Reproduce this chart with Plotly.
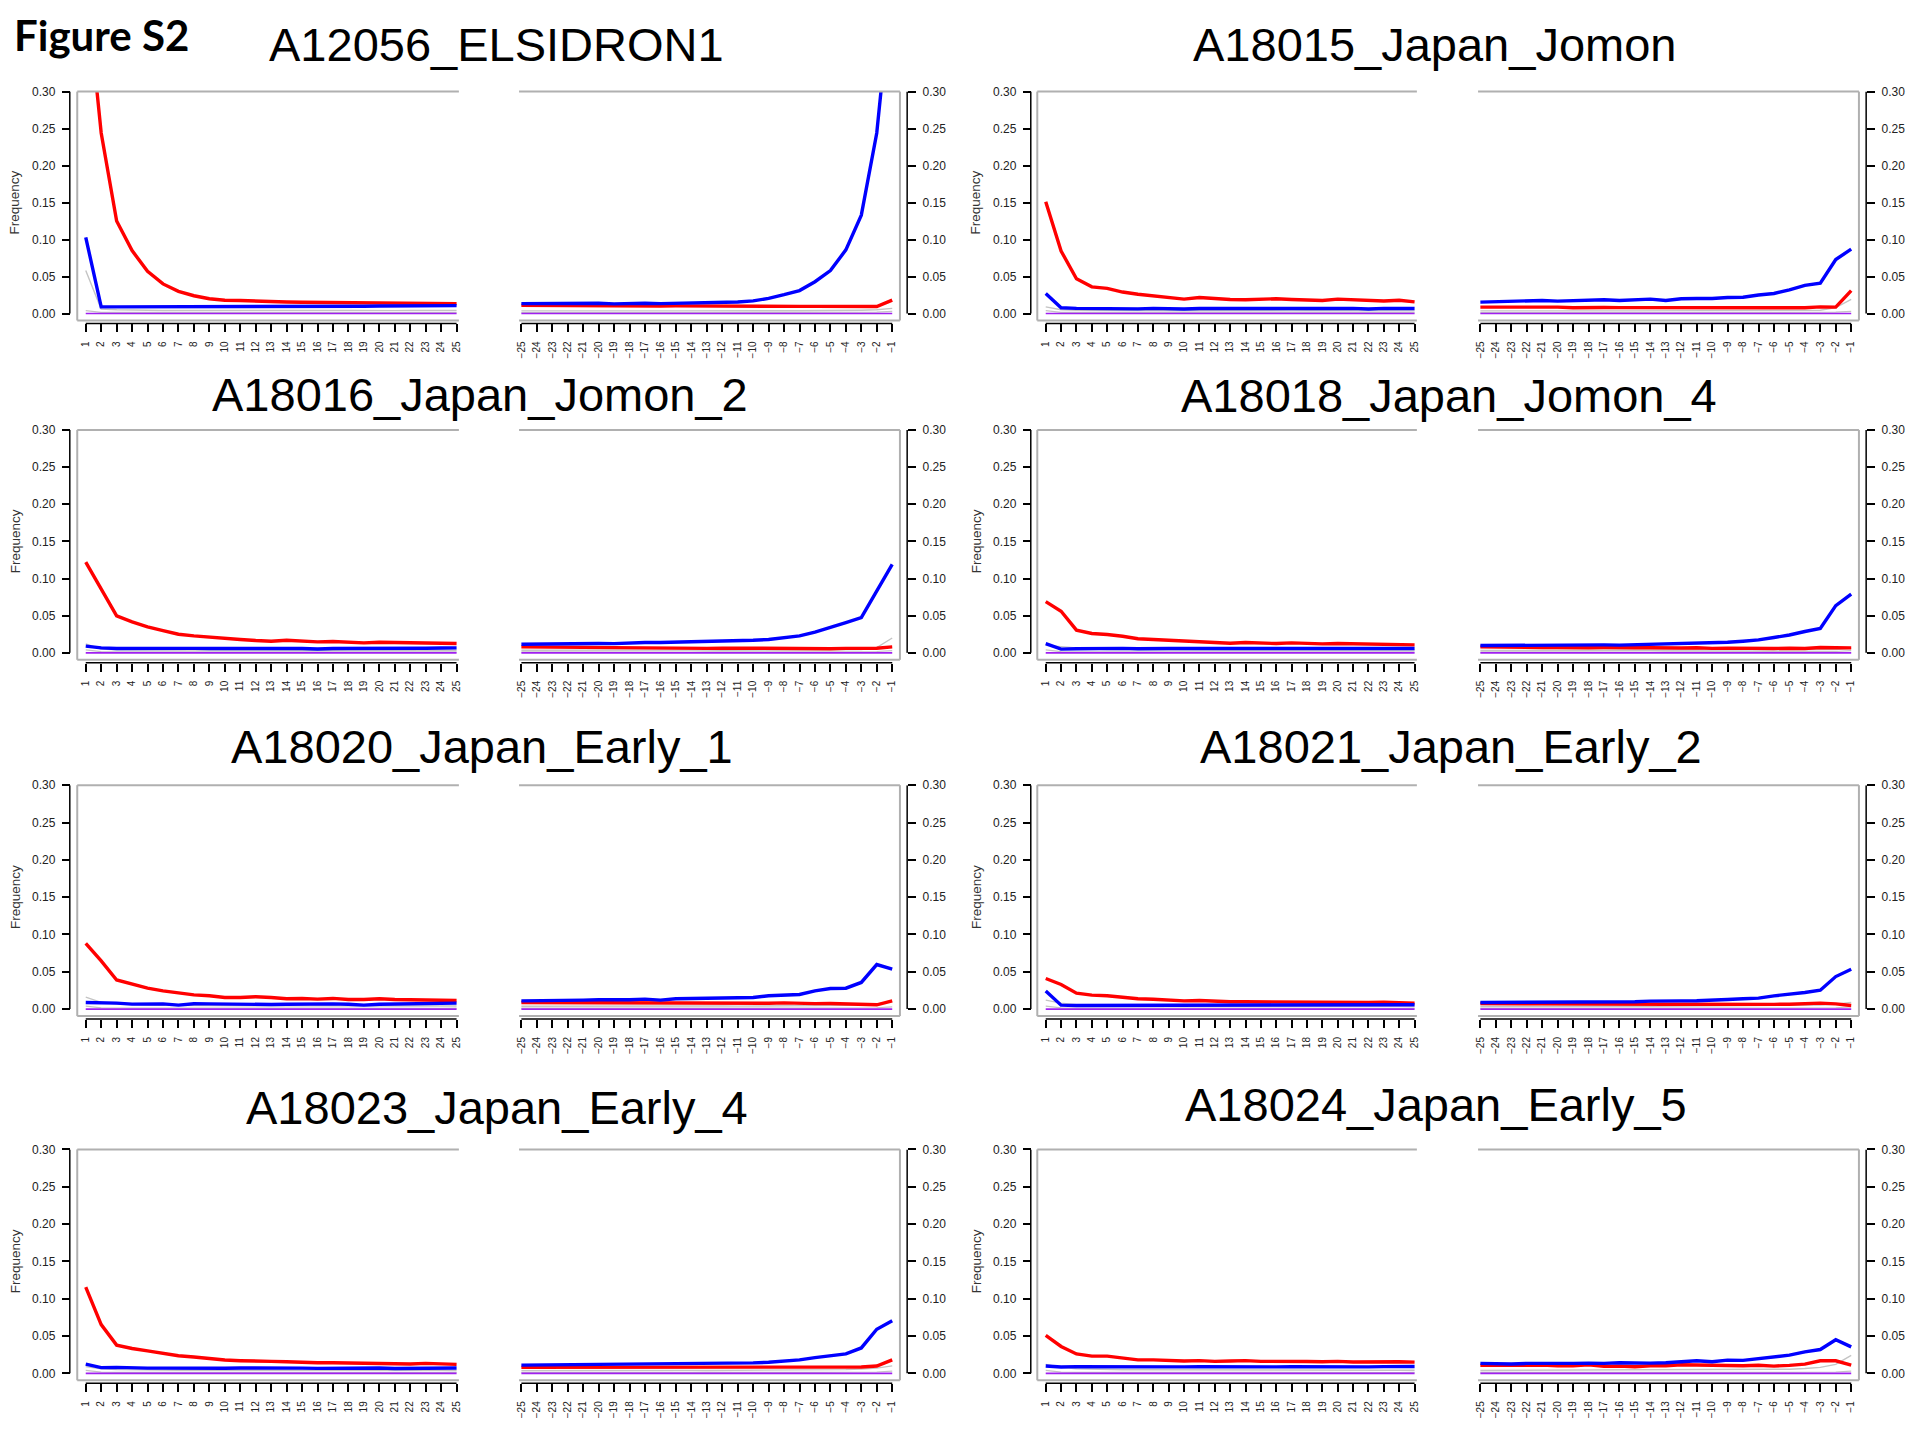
import plotly.graph_objects as go

W, H = 1920, 1440

# ---------------- data ----------------
pos5 = list(range(1, 26))
pos3 = list(range(-25, 0))
labels5 = [str(p) for p in pos5]
labels3 = ["\u2212" + str(-p) for p in pos3]
ytick_vals = [0.0, 0.05, 0.10, 0.15, 0.20, 0.25, 0.30]
ytick_text = ["0.00", "0.05", "0.10", "0.15", "0.20", "0.25", "0.30"]

sample_names = ["A12056_ELSIDRON1", "A18015_Japan_Jomon", "A18016_Japan_Jomon_2", "A18018_Japan_Jomon_4",
                "A18020_Japan_Early_1", "A18021_Japan_Early_2", "A18023_Japan_Early_4", "A18024_Japan_Early_5"]

# 5' end: C->T (red), G->A (blue); 3' end: C->T (red), G->A (blue); positions -25..-1 for 3'
s1_ct5 = [0.45, 0.244, 0.125, 0.085, 0.057, 0.040, 0.030, 0.024, 0.020, 0.018, 0.0175, 0.0166, 0.0157, 0.0155, 0.0152, 0.0150, 0.0152, 0.0150, 0.0146, 0.0145, 0.0142, 0.0140, 0.0138, 0.0140, 0.0134]
s1_ga5 = [0.103, 0.009, 0.009, 0.009, 0.009, 0.0091, 0.0092, 0.0095, 0.0098, 0.0097, 0.0099, 0.0100, 0.0096, 0.0099, 0.0100, 0.0098, 0.0101, 0.0100, 0.0098, 0.0102, 0.0101, 0.0100, 0.0103, 0.0105, 0.0106]
s1_ct3 = [0.0110, 0.0108, 0.0105, 0.0102, 0.0104, 0.0103, 0.0098, 0.0101, 0.0102, 0.0100, 0.0103, 0.0101, 0.0098, 0.0101, 0.0100, 0.0096, 0.0099, 0.0100, 0.0096, 0.0097, 0.0095, 0.0094, 0.0092, 0.0094, 0.0180]
s1_ga3 = [0.0134, 0.0136, 0.0135, 0.0130, 0.0135, 0.0138, 0.0130, 0.0138, 0.0138, 0.0133, 0.0137, 0.0140, 0.0142, 0.0150, 0.0155, 0.0170, 0.0205, 0.0255, 0.0310, 0.0430, 0.0580, 0.0860, 0.1330, 0.2440, 0.4500]
s1_oth5 = [0.058, 0.006, 0.005, 0.0045, 0.0042, 0.0040, 0.0041, 0.0039, 0.0040, 0.0038, 0.0040, 0.0041, 0.0039, 0.0040, 0.0038, 0.0039, 0.0040, 0.0041, 0.0038, 0.0040, 0.0039, 0.0041, 0.0040, 0.0039, 0.0040]
s1_oth3 = [0.0035, 0.0034, 0.0035, 0.0036, 0.0034, 0.0035, 0.0036, 0.0035, 0.0034, 0.0035, 0.0036, 0.0035, 0.0036, 0.0035, 0.0036, 0.0037, 0.0036, 0.0037, 0.0038, 0.0038, 0.0040, 0.0042, 0.0045, 0.0050, 0.0070]

s2_ct5 = [0.151, 0.0845, 0.047, 0.036, 0.034, 0.029, 0.026, 0.024, 0.022, 0.0194, 0.0217, 0.020, 0.019, 0.0185, 0.019, 0.020, 0.019, 0.0185, 0.0176, 0.0194, 0.0185, 0.0176, 0.017, 0.018, 0.0158]
s2_ga5 = [0.027, 0.0077, 0.0070, 0.0066, 0.0070, 0.0069, 0.0062, 0.0070, 0.0066, 0.0060, 0.0068, 0.0066, 0.0064, 0.0069, 0.0067, 0.0061, 0.0068, 0.0068, 0.0063, 0.0067, 0.0070, 0.0060, 0.0070, 0.0072, 0.0068]
s2_ct3 = [0.0086, 0.0086, 0.0087, 0.0090, 0.0085, 0.0086, 0.0078, 0.0083, 0.0082, 0.0080, 0.0079, 0.0077, 0.0078, 0.0081, 0.0083, 0.0080, 0.0079, 0.0080, 0.0076, 0.0078, 0.0080, 0.0077, 0.0090, 0.0086, 0.0310]
s2_ga3 = [0.0154, 0.0158, 0.0170, 0.0167, 0.0176, 0.0167, 0.0176, 0.0176, 0.0185, 0.0176, 0.0185, 0.0194, 0.0176, 0.0200, 0.0203, 0.0203, 0.0217, 0.0220, 0.0250, 0.0270, 0.0320, 0.0380, 0.0410, 0.0730, 0.0870]
s2_oth5 = [0.009, 0.005, 0.0042, 0.0040, 0.0038, 0.0039, 0.0037, 0.0038, 0.0036, 0.0037, 0.0038, 0.0036, 0.0037, 0.0038, 0.0036, 0.0037, 0.0036, 0.0038, 0.0037, 0.0036, 0.0037, 0.0038, 0.0036, 0.0037, 0.0036]
s2_oth3 = [0.0035, 0.0036, 0.0035, 0.0036, 0.0035, 0.0034, 0.0035, 0.0036, 0.0035, 0.0036, 0.0035, 0.0036, 0.0037, 0.0036, 0.0037, 0.0036, 0.0037, 0.0038, 0.0038, 0.0039, 0.0040, 0.0042, 0.0045, 0.0080, 0.0190]

s3_ct5 = [0.122, 0.086, 0.0497, 0.0416, 0.035, 0.030, 0.025, 0.0228, 0.021, 0.0188, 0.018, 0.0166, 0.0157, 0.017, 0.0157, 0.0148, 0.0152, 0.0148, 0.0134, 0.0143, 0.0139, 0.0134, 0.0139, 0.0134, 0.0125]
s3_ga5 = [0.009, 0.0067, 0.0058, 0.0060, 0.0060, 0.0058, 0.0056, 0.0060, 0.0058, 0.0056, 0.0058, 0.0058, 0.0054, 0.0058, 0.0058, 0.0052, 0.0058, 0.0058, 0.0052, 0.0058, 0.0062, 0.0058, 0.0062, 0.0066, 0.0067]
s3_ct3 = [0.0080, 0.0078, 0.0074, 0.0072, 0.0070, 0.0068, 0.0066, 0.0066, 0.0068, 0.0062, 0.0066, 0.0066, 0.0060, 0.0064, 0.0062, 0.0060, 0.0062, 0.0060, 0.0058, 0.0050, 0.0056, 0.0060, 0.0062, 0.0062, 0.0080]
s3_ga3 = [0.0116, 0.0120, 0.0122, 0.0125, 0.0126, 0.0125, 0.0124, 0.0134, 0.0139, 0.0139, 0.0143, 0.0148, 0.0148, 0.0157, 0.0166, 0.0170, 0.0180, 0.0200, 0.0228, 0.0280, 0.0340, 0.0407, 0.0475, 0.0830, 0.1190]
s3_oth5 = [0.012, 0.0050, 0.0042, 0.0040, 0.0039, 0.0038, 0.0037, 0.0038, 0.0036, 0.0037, 0.0038, 0.0036, 0.0037, 0.0036, 0.0037, 0.0036, 0.0035, 0.0037, 0.0036, 0.0035, 0.0036, 0.0037, 0.0035, 0.0036, 0.0035]
s3_oth3 = [0.0034, 0.0035, 0.0034, 0.0035, 0.0036, 0.0035, 0.0034, 0.0035, 0.0036, 0.0035, 0.0036, 0.0035, 0.0036, 0.0035, 0.0036, 0.0037, 0.0036, 0.0037, 0.0038, 0.0039, 0.0040, 0.0042, 0.0045, 0.0070, 0.0200]

s4_ct5 = [0.069, 0.056, 0.0305, 0.026, 0.0246, 0.0224, 0.019, 0.018, 0.0166, 0.0152, 0.0152, 0.0143, 0.013, 0.0139, 0.013, 0.0125, 0.0134, 0.0125, 0.012, 0.0125, 0.012, 0.0116, 0.012, 0.0116, 0.0107]
s4_ga5 = [0.0125, 0.0050, 0.0055, 0.0058, 0.0060, 0.0060, 0.0055, 0.0060, 0.0058, 0.0058, 0.0058, 0.0058, 0.0055, 0.0058, 0.0055, 0.0052, 0.0062, 0.0058, 0.0055, 0.0058, 0.0058, 0.0055, 0.0058, 0.0060, 0.0058]
s4_ct3 = [0.0080, 0.0076, 0.0076, 0.0072, 0.0072, 0.0072, 0.0066, 0.0068, 0.0070, 0.0064, 0.0068, 0.0068, 0.0064, 0.0066, 0.0068, 0.0060, 0.0064, 0.0062, 0.0054, 0.0058, 0.0062, 0.0058, 0.0072, 0.0072, 0.0067]
s4_ga3 = [0.0098, 0.0100, 0.0100, 0.0098, 0.0102, 0.0104, 0.0100, 0.0102, 0.0107, 0.0104, 0.0110, 0.0116, 0.0112, 0.0120, 0.0130, 0.0130, 0.0143, 0.0157, 0.0175, 0.0206, 0.0240, 0.0287, 0.0327, 0.0636, 0.0790]
s4_oth5 = [0.010, 0.0085, 0.0060, 0.0050, 0.0045, 0.0043, 0.0042, 0.0040, 0.0041, 0.0040, 0.0039, 0.0040, 0.0038, 0.0039, 0.0040, 0.0038, 0.0039, 0.0038, 0.0037, 0.0039, 0.0038, 0.0037, 0.0038, 0.0039, 0.0037]
s4_oth3 = [0.0033, 0.0034, 0.0033, 0.0034, 0.0035, 0.0034, 0.0033, 0.0034, 0.0035, 0.0034, 0.0035, 0.0034, 0.0035, 0.0034, 0.0035, 0.0036, 0.0035, 0.0036, 0.0036, 0.0037, 0.0038, 0.0039, 0.0041, 0.0045, 0.0060]

s5_ct5 = [0.088, 0.0646, 0.039, 0.0334, 0.028, 0.0245, 0.0214, 0.019, 0.0178, 0.0156, 0.0156, 0.0165, 0.0156, 0.0138, 0.0143, 0.0134, 0.0143, 0.0129, 0.0129, 0.0138, 0.0129, 0.0125, 0.0129, 0.0125, 0.0116]
s5_ga5 = [0.0089, 0.0089, 0.0080, 0.0067, 0.0072, 0.0070, 0.0054, 0.0072, 0.0070, 0.0066, 0.0072, 0.0066, 0.0062, 0.0066, 0.0070, 0.0066, 0.0070, 0.0066, 0.0054, 0.0066, 0.0068, 0.0066, 0.0072, 0.0080, 0.0080]
s5_ct3 = [0.0089, 0.0088, 0.0090, 0.0082, 0.0080, 0.0084, 0.0080, 0.0080, 0.0082, 0.0078, 0.0078, 0.0076, 0.0076, 0.0080, 0.0078, 0.0078, 0.0078, 0.0084, 0.0076, 0.0074, 0.0076, 0.0070, 0.0062, 0.0058, 0.0110]
s5_ga3 = [0.0110, 0.0110, 0.0120, 0.0110, 0.0120, 0.0125, 0.0120, 0.0125, 0.0134, 0.0120, 0.0138, 0.0143, 0.0138, 0.0147, 0.0152, 0.0156, 0.0178, 0.0190, 0.0196, 0.0245, 0.0276, 0.0280, 0.0357, 0.0597, 0.0535]
s5_oth5 = [0.016, 0.0090, 0.0068, 0.0058, 0.0054, 0.0050, 0.0048, 0.0047, 0.0046, 0.0045, 0.0046, 0.0045, 0.0044, 0.0045, 0.0044, 0.0043, 0.0044, 0.0043, 0.0042, 0.0044, 0.0043, 0.0042, 0.0043, 0.0042, 0.0041]
s5_oth3 = [0.0038, 0.0039, 0.0038, 0.0039, 0.0040, 0.0039, 0.0038, 0.0039, 0.0040, 0.0039, 0.0040, 0.0039, 0.0040, 0.0041, 0.0040, 0.0041, 0.0042, 0.0043, 0.0044, 0.0045, 0.0047, 0.0050, 0.0060, 0.0070, 0.0100]

s6_ct5 = [0.041, 0.033, 0.0213, 0.0187, 0.0178, 0.0156, 0.0138, 0.0133, 0.0124, 0.011, 0.0116, 0.0102, 0.0098, 0.0098, 0.0096, 0.0093, 0.0096, 0.0096, 0.0093, 0.0096, 0.0093, 0.0089, 0.0091, 0.0089, 0.0080]
s6_ga5 = [0.0244, 0.0053, 0.0049, 0.0049, 0.0058, 0.0055, 0.0055, 0.0058, 0.0055, 0.0053, 0.0055, 0.0055, 0.0050, 0.0053, 0.0055, 0.0050, 0.0055, 0.0053, 0.0050, 0.0058, 0.0055, 0.0053, 0.0055, 0.0058, 0.0058]
s6_ct3 = [0.0076, 0.0072, 0.0070, 0.0070, 0.0072, 0.0070, 0.0068, 0.0070, 0.0068, 0.0066, 0.0068, 0.0068, 0.0066, 0.0066, 0.0064, 0.0062, 0.0062, 0.0060, 0.0062, 0.0064, 0.0066, 0.0070, 0.0080, 0.0070, 0.0049]
s6_ga3 = [0.0089, 0.0089, 0.0089, 0.0090, 0.0092, 0.0093, 0.0093, 0.0094, 0.0096, 0.0096, 0.0098, 0.0107, 0.0104, 0.0110, 0.0112, 0.0116, 0.0129, 0.0138, 0.0147, 0.0178, 0.0196, 0.0222, 0.0253, 0.0436, 0.0533]
s6_oth5 = [0.012, 0.0080, 0.0060, 0.0052, 0.0048, 0.0046, 0.0045, 0.0044, 0.0043, 0.0044, 0.0042, 0.0043, 0.0042, 0.0041, 0.0042, 0.0041, 0.0042, 0.0040, 0.0041, 0.0042, 0.0040, 0.0041, 0.0040, 0.0041, 0.0040]
s6_oth3 = [0.0036, 0.0037, 0.0036, 0.0037, 0.0038, 0.0037, 0.0036, 0.0037, 0.0038, 0.0037, 0.0038, 0.0037, 0.0038, 0.0039, 0.0038, 0.0039, 0.0040, 0.0041, 0.0042, 0.0043, 0.0045, 0.0048, 0.0055, 0.0065, 0.0090]

s7_ct5 = [0.1155, 0.0653, 0.0378, 0.0333, 0.030, 0.0267, 0.0236, 0.0218, 0.0196, 0.0178, 0.0169, 0.0169, 0.016, 0.0156, 0.0147, 0.0142, 0.0142, 0.0138, 0.0133, 0.0133, 0.0129, 0.0124, 0.0133, 0.0129, 0.012]
s7_ga5 = [0.0124, 0.0076, 0.0080, 0.0072, 0.0070, 0.0070, 0.0068, 0.0074, 0.0072, 0.0068, 0.0072, 0.0074, 0.0066, 0.0068, 0.0070, 0.0066, 0.0068, 0.0068, 0.0068, 0.0072, 0.0064, 0.0066, 0.0072, 0.0072, 0.0072]
s7_ct3 = [0.0080, 0.0080, 0.0078, 0.0080, 0.0078, 0.0076, 0.0078, 0.0076, 0.0080, 0.0078, 0.0076, 0.0078, 0.0076, 0.0080, 0.0078, 0.0076, 0.0078, 0.0076, 0.0074, 0.0076, 0.0078, 0.0080, 0.0085, 0.0098, 0.0180]
s7_ga3 = [0.0110, 0.0112, 0.0112, 0.0114, 0.0115, 0.0117, 0.0118, 0.0120, 0.0122, 0.0125, 0.0126, 0.0128, 0.0128, 0.0132, 0.0135, 0.0140, 0.0148, 0.0160, 0.0180, 0.0210, 0.0230, 0.0260, 0.0340, 0.0590, 0.0705]
s7_oth5 = [0.009, 0.0060, 0.0050, 0.0046, 0.0044, 0.0043, 0.0042, 0.0041, 0.0042, 0.0040, 0.0041, 0.0040, 0.0041, 0.0039, 0.0040, 0.0041, 0.0039, 0.0040, 0.0039, 0.0040, 0.0039, 0.0038, 0.0040, 0.0039, 0.0038]
s7_oth3 = [0.0036, 0.0037, 0.0036, 0.0037, 0.0036, 0.0037, 0.0038, 0.0037, 0.0038, 0.0037, 0.0038, 0.0039, 0.0038, 0.0039, 0.0040, 0.0039, 0.0040, 0.0041, 0.0042, 0.0044, 0.0046, 0.0050, 0.0058, 0.0070, 0.0100]

s8_ct5 = [0.051, 0.036, 0.026, 0.023, 0.023, 0.021, 0.018, 0.018, 0.017, 0.0165, 0.017, 0.016, 0.0165, 0.017, 0.016, 0.0162, 0.016, 0.0158, 0.0155, 0.016, 0.0152, 0.0155, 0.015, 0.0155, 0.015]
s8_ga5 = [0.0098, 0.0085, 0.0090, 0.0088, 0.0092, 0.0088, 0.0085, 0.0090, 0.0088, 0.0086, 0.0090, 0.0088, 0.0085, 0.0090, 0.0088, 0.0086, 0.0090, 0.0087, 0.0085, 0.0090, 0.0088, 0.0086, 0.0090, 0.0090, 0.0092]
s8_ct3 = [0.0106, 0.0108, 0.0106, 0.0106, 0.0110, 0.0102, 0.0102, 0.0115, 0.0093, 0.0097, 0.0089, 0.0102, 0.0102, 0.0115, 0.0110, 0.0102, 0.0102, 0.0102, 0.0108, 0.0097, 0.0106, 0.0124, 0.0168, 0.0168, 0.0110]
s8_ga3 = [0.0133, 0.0128, 0.0124, 0.0133, 0.0133, 0.0124, 0.0133, 0.0137, 0.0133, 0.0142, 0.0137, 0.0137, 0.0142, 0.0150, 0.0168, 0.0155, 0.0177, 0.0173, 0.0200, 0.0226, 0.0244, 0.0288, 0.0319, 0.0450, 0.0354]
s8_oth5 = [0.012, 0.0080, 0.0062, 0.0055, 0.0050, 0.0048, 0.0047, 0.0046, 0.0045, 0.0046, 0.0044, 0.0045, 0.0044, 0.0043, 0.0044, 0.0043, 0.0044, 0.0042, 0.0043, 0.0042, 0.0043, 0.0042, 0.0041, 0.0042, 0.0041]
s8_oth3 = [0.0038, 0.0039, 0.0038, 0.0039, 0.0040, 0.0039, 0.0040, 0.0041, 0.0040, 0.0041, 0.0040, 0.0041, 0.0042, 0.0041, 0.0042, 0.0043, 0.0044, 0.0045, 0.0047, 0.0050, 0.0055, 0.0065, 0.0080, 0.0120, 0.0240]

# low-level "other substitution" lines and insertion line shared by all samples
low_oth5 = [0.0040, 0.0016, 0.0014, 0.0013, 0.0013, 0.0012, 0.0013, 0.0012, 0.0012, 0.0013, 0.0012, 0.0012, 0.0011, 0.0012, 0.0012, 0.0011, 0.0012, 0.0012, 0.0011, 0.0012, 0.0011, 0.0012, 0.0011, 0.0011, 0.0012]
low_oth3 = [0.0012, 0.0011, 0.0012, 0.0011, 0.0012, 0.0012, 0.0011, 0.0012, 0.0011, 0.0012, 0.0012, 0.0011, 0.0012, 0.0012, 0.0011, 0.0012, 0.0012, 0.0013, 0.0012, 0.0013, 0.0013, 0.0014, 0.0015, 0.0018, 0.0030]
ins_freq = [0.0, 0.0, 0.0, 0.0, 0.0, 0.0, 0.0, 0.0, 0.0, 0.0, 0.0, 0.0, 0.0, 0.0, 0.0, 0.0, 0.0, 0.0, 0.0, 0.0, 0.0, 0.0, 0.0, 0.0, 0.0]

samples = [
    (s1_ct5, s1_ga5, s1_oth5, s1_ct3, s1_ga3, s1_oth3),
    (s2_ct5, s2_ga5, s2_oth5, s2_ct3, s2_ga3, s2_oth3),
    (s3_ct5, s3_ga5, s3_oth5, s3_ct3, s3_ga3, s3_oth3),
    (s4_ct5, s4_ga5, s4_oth5, s4_ct3, s4_ga3, s4_oth3),
    (s5_ct5, s5_ga5, s5_oth5, s5_ct3, s5_ga3, s5_oth3),
    (s6_ct5, s6_ga5, s6_oth5, s6_ct3, s6_ga3, s6_oth3),
    (s7_ct5, s7_ga5, s7_oth5, s7_ct3, s7_ga3, s7_oth3),
    (s8_ct5, s8_ga5, s8_oth5, s8_ct3, s8_ga3, s8_oth3),
]

# ---------------- layout geometry (pixels) ----------------
cols = [dict(axl=67, t1=83, t25=455, m25=520, m1=892, axr=907),
        dict(axl=1031, t1=1046, t25=1416, m25=1482, m1=1854, axr=1869)]
rows = [(85, 308), (425, 649), (782, 1007), (1148, 1373)]   # pixel y of 0.30 and 0.00
title_xy = [(495, 38), (1436, 38), (478, 389), (1451, 390),
            (481, 743), (1453, 743), (496, 1106), (1437, 1103)]

RED, BLUE, GREY, PURPLE = "#ff0000", "#0000ff", "#c4c4c4", "#a020f0"
BOXC = "#b0b0b0"
TICKFONT_X = dict(family="Liberation Sans, Arial, sans-serif", size=10, color="#222222")
TICKFONT_Y = dict(family="Liberation Sans, Arial, sans-serif", size=12, color="#222222")

fig = go.Figure()
layout = {}
shapes = []
annotations = []


def axname(i):
    return "" if i == 1 else str(i)


for k, (ct5, ga5, oth5, ct3, ga3, oth3) in enumerate(samples):
    r, c = divmod(k, 2)
    g = cols[c]
    y30, y00 = rows[r]
    ppy = (y00 - y30) / 0.30
    ybot = y00 + 7
    ymin = -7 / ppy
    ydom = [1 - ybot / H, 1 - y30 / H]
    xaxis_pos = 1 - (y00 + 10) / H

    ppx = (g["t25"] - g["t1"]) / 24
    dom_l = [(g["t1"] - 0.55 * ppx) / W, (g["t25"] + 0.15 * ppx) / W]
    ppx2 = (g["m1"] - g["m25"]) / 24
    dom_r = [(g["m25"] - 0.15 * ppx2) / W, (g["m1"] + 0.5 * ppx2) / W]

    for side in (0, 1):
        idx = 2 * k + 1 + side
        n = axname(idx)
        if side == 0:
            xs, labs, dom, rng = pos5, labels5, dom_l, [0.45, 25.15]
            series = [(low_oth5, GREY, 1.2), (oth5, GREY, 1.4), (ins_freq, PURPLE, 1.6),
                      (ct5, RED, 3.4), (ga5, BLUE, 3.4)]
            yside, ypos = "left", g["axl"] / W
        else:
            xs, labs, dom, rng = pos3, labels3, dom_r, [-25.15, -0.5]
            series = [(low_oth3, GREY, 1.2), (oth3, GREY, 1.4), (ins_freq, PURPLE, 1.6),
                      (ct3, RED, 3.4), (ga3, BLUE, 3.4)]
            yside, ypos = "right", g["axr"] / W

        for vals, col, lw in series:
            fig.add_trace(go.Scatter(x=xs, y=vals, mode="lines",
                                     line=dict(color=col, width=lw),
                                     xaxis="x" + n, yaxis="y" + n,
                                     showlegend=False, hoverinfo="skip"))

        layout["xaxis" + n] = dict(
            domain=dom, range=rng, anchor="free", position=xaxis_pos,
            tickmode="array", tickvals=xs, ticktext=labs, tickangle=-90,
            ticks="outside", ticklen=8, tickwidth=1.5, tickcolor="black",
            ticklabelstandoff=5,
            showline=False, showgrid=False, zeroline=False, tickfont=TICKFONT_X)
        layout["yaxis" + n] = dict(
            domain=ydom, range=[ymin, 0.30], anchor="free", position=ypos, side=yside,
            tickmode="array", tickvals=ytick_vals, ticktext=ytick_text,
            ticks="outside", ticklen=8, tickwidth=1.5, tickcolor="black",
            ticklabelstandoff=4,
            showline=False, showgrid=False, zeroline=False, tickfont=TICKFONT_Y)

        # black axis lines (R-style, spanning the tick range only)
        shapes.append(dict(type="line", xref="paper", yref="y" + n, x0=ypos, x1=ypos,
                           y0=0, y1=0.30, line=dict(color="black", width=1.5)))
        shapes.append(dict(type="line", xref="x" + n, yref="paper", x0=xs[0], x1=xs[-1],
                           y0=xaxis_pos, y1=xaxis_pos, line=dict(color="black", width=1.5)))

        # grey frame (open toward the gap between the two halves)
        xd, yd = "x" + n + " domain", "y" + n + " domain"
        shapes.append(dict(type="line", xref=xd, yref=yd, x0=0, x1=1, y0=1, y1=1,
                           line=dict(color=BOXC, width=2)))
        shapes.append(dict(type="line", xref=xd, yref=yd, x0=0, x1=1, y0=0, y1=0,
                           line=dict(color=BOXC, width=2)))
        edge = 0 if side == 0 else 1
        shapes.append(dict(type="line", xref=xd, yref=yd, x0=edge, x1=edge, y0=0, y1=1,
                           line=dict(color=BOXC, width=2)))

    # "Frequency" y title
    annotations.append(dict(text="Frequency", xref="paper", yref="paper",
                            x=(g["axl"] - 55) / W, y=1 - (y30 + y00) / 2 / H,
                            xanchor="center", yanchor="middle", textangle=-90, showarrow=False,
                            font=dict(family="Liberation Sans, Arial, sans-serif", size=13.5, color="#333333")))
    tx, ty = title_xy[k]
    annotations.append(dict(text=sample_names[k], xref="paper", yref="paper",
                            x=tx / W, y=1 - ty / H, xanchor="center", yanchor="middle",
                            showarrow=False,
                            font=dict(family="Liberation Sans, Arial, sans-serif", size=47, color="black")))

annotations.append(dict(text="<b>Figure S2</b>", xref="paper", yref="paper",
                        x=9 / W, y=1 - 28 / H, xanchor="left", yanchor="middle", showarrow=False,
                        font=dict(family="Lato, Open Sans, sans-serif", size=42, color="black")))

fig.update_layout(**layout)
fig.update_layout(width=W, height=H, margin=dict(l=0, r=0, t=0, b=0),
                  paper_bgcolor="white", plot_bgcolor="white",
                  shapes=shapes, annotations=annotations, showlegend=False)

fig.write_html("out.html", config={"displayModeBar": False},
               post_script="document.body.style.margin='0px';document.body.style.overflow='hidden';")
